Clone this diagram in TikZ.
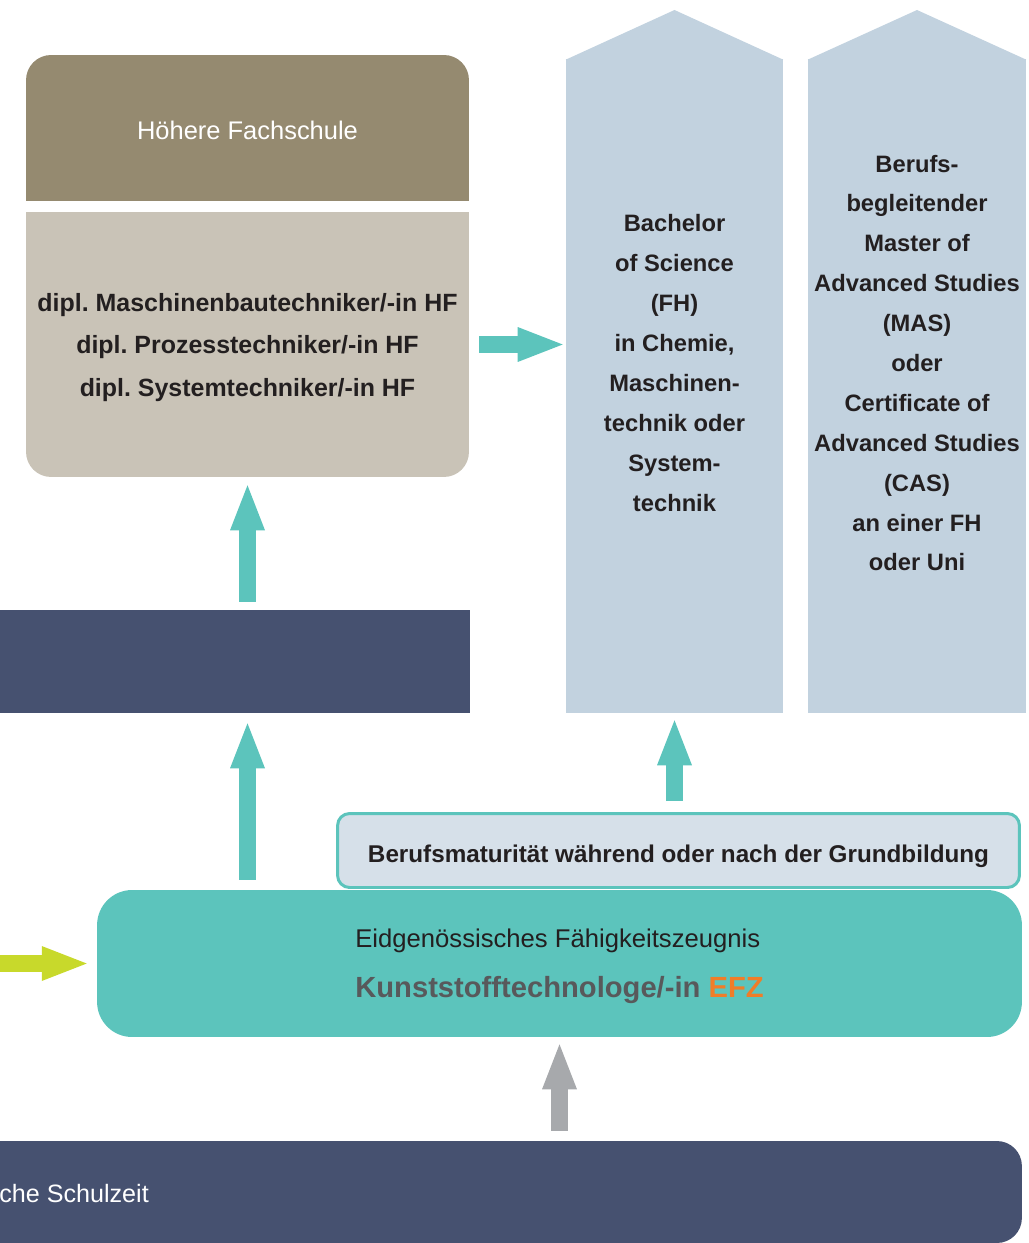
\documentclass[tikz,border=0pt]{standalone}
\usepackage{fontspec}
\setmainfont{Liberation Sans}
\usetikzlibrary{arrows.meta, calc, positioning}
\frenchspacing

\definecolor{hfdunkel}{RGB}{149,138,112}
\definecolor{hfhell}{RGB}{201,195,183}
\definecolor{navy}{RGB}{70,81,112}
\definecolor{saeulenblau}{RGB}{194,210,223}
\definecolor{tuerkis}{RGB}{92,196,188}
\definecolor{bmblau}{RGB}{214,224,233}
\definecolor{schrift}{RGB}{35,31,32}
\definecolor{kgrau}{RGB}{88,89,91}
\definecolor{efzorange}{RGB}{240,125,40}
\definecolor{gelbgruen}{RGB}{200,217,43}
\definecolor{pfeilgrau}{RGB}{167,169,172}

\tikzset{
  pfeil/.style = {line width=0.34cm, draw=tuerkis,
    -{Triangle[length=0.9cm, width=0.7cm, line width=0pt]}},
  hfkopf/.style = {fill=hfdunkel, rounded corners=0.5cm, inner sep=0pt,
    minimum width=8.86cm, minimum height=2.92cm, text=white,
    text height=15.6pt, text depth=2pt,
    font=\fontsize{14.5}{17}\selectfont},
  hfliste/.style = {fill=hfhell, rounded corners=0.5cm, inner sep=0pt,
    minimum width=8.86cm, minimum height=5.18cm, text=schrift, align=center,
    font=\fontsize{14.2}{24.4}\selectfont\bfseries},
  balken/.style = {fill=navy, inner sep=0pt},
  saeule/.style = {fill=saeulenblau, inner sep=0pt, minimum height=13.08cm},
  saeulentext/.style = {text=schrift, align=center,
    font=\fontsize{13.5}{22.7}\selectfont\bfseries},
  bm/.style = {fill=bmblau, draw=tuerkis, line width=1.7pt, rounded corners=0.24cm,
    minimum width=13.64cm, minimum height=1.48cm, inner sep=0pt, text=schrift,
    text height=16.9pt, text depth=2.9pt,
    font=\fontsize{13.8}{16}\selectfont\bfseries},
  efz/.style = {fill=tuerkis, rounded corners=0.7cm, inner sep=0pt,
    minimum width=18.5cm, minimum height=2.94cm},
  efztext/.style = {anchor=west, inner sep=0pt, text=schrift,
    font=\fontsize{14.6}{17}\selectfont},
  efzberuf/.style = {anchor=west, inner sep=0pt, text=kgrau,
    font=\fontsize{16.6}{19}\selectfont\bfseries},
  schule/.style = {fill=navy, rounded corners=0.5cm, inner sep=0pt,
    minimum width=20.44cm, minimum height=2.04cm},
  schultext/.style = {anchor=west, inner sep=0pt, text=white,
    font=\fontsize{14.3}{17}\selectfont}
}

\begin{document}
\begin{tikzpicture}[x=0.02cm, y=-0.02cm]
  \useasboundingbox (0,0) rectangle (1028,1243);

  % Hoehere Fachschule
  \fill[hfdunkel] (26,128) rectangle (469,201);
  \node[hfkopf] (hfkopf) at (247.5,128) {Höhere Fachschule};
  \fill[hfhell] (26,212) rectangle (469,350);
  \node[hfliste] (hfunten) at (247.5,347.5)
    {dipl. Maschinenbautechniker/-in HF\\dipl. Prozesstechniker/-in HF\\dipl. Systemtechniker/-in HF};

  \node[balken, minimum width=9.4cm, minimum height=2.06cm] (balken) at (235,661.5) {};

  % Saeulen
  \node[saeule, minimum width=4.34cm] (bachelor) at (674.5,386) {};
  \fill[saeulenblau] ($(bachelor.north west)+(0,1)$) -- (674.5,10) -- ($(bachelor.north east)+(0,1)$) -- cycle;
  \node[saeulentext] (bachelortext) at (674.5,363)
    {Bachelor\\of Science\\(FH)\\in Chemie,\\Maschinen-\\technik oder\\System-\\technik};

  \node[saeule, minimum width=4.36cm] (mas) at (917,386) {};
  \fill[saeulenblau] ($(mas.north west)+(0,1)$) -- (917,10) -- ($(mas.north east)+(0,1)$) -- cycle;
  \node[saeulentext] (mastext) at (917,363)
    {Berufs-\\begleitender\\Master of\\Advanced Studies\\(MAS)\\oder\\Certificate of\\Advanced Studies\\(CAS)\\an einer FH\\oder Uni};

  % Grundbildung
  \node[efz] (efz) at (559.5,963.5) {};
  \node[bm] (bm) at (678.5,850.5) {Berufsmaturität während oder nach der Grundbildung};
  \node[efztext] (efzkopf) at (355,941) {Eidgenössisches Fähigkeitszeugnis};
  \node[efzberuf] (efzberuf) at (355,990) {Kunststofftechnologe/-in \textcolor{efzorange}{EFZ}};

  \fill[navy] (0,1141) rectangle (500,1243);
  \node[schule] (schule) at (511,1192) {};
  \node[schultext] (schultext) at (-1,1194) {che Schulzeit};

  % Pfeile
  \draw[pfeil] ($(hfunten.east)+(10,-3)$) -- ($(bachelor.west |- hfunten.east)+(-3,-3)$);
  \draw[pfeil] ($(balken.north -| hfunten.south)+(0,-8)$) -- ($(hfunten.south)+(0,8)$);
  \draw[pfeil] ($(efz.north -| hfunten.south)+(0,-10)$) -- ($(balken.south -| hfunten.south)+(0,10)$);
  \draw[pfeil] ($(bm.north -| bachelor.south)+(0,-11)$) -- ($(bachelor.south)+(0,7)$);
  \draw[pfeil, draw=pfeilgrau] ($(schule.north -| efz.south)+(0,-10)$) -- ($(efz.south)+(0,7)$);
  \coordinate (links) at (0,963.5);
  \draw[pfeil, draw=gelbgruen] (links) -- ($(efz.west)+(-10,0)$);
\end{tikzpicture}
\end{document}
